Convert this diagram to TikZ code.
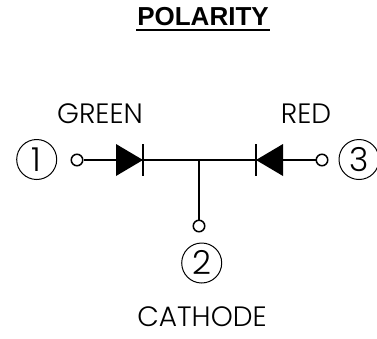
\documentclass[tikz,border=0pt]{standalone}
\usepackage{fontspec}
\setmainfont{Poppins Light}
\newfontfamily\titlefont[Scale=1]{Liberation Sans Bold}
\tikzset{
  wire/.style={draw=black,line width=1.5pt},
  terminal/.style={circle,draw=black,line width=1.5pt,fill=white,minimum size=11.5pt,inner sep=0pt},
  pin/.style={circle,draw=black,line width=1pt,minimum size=40pt,inner sep=0pt,font=\fontsize{33}{33}\selectfont},
  lbl/.style={inner sep=0pt,font=\fontsize{28}{30}\selectfont},
  diode/.style={fill=black,draw=none},
  titlelbl/.style={inner sep=0pt,font=\titlefont\fontsize{26}{28}\selectfont}
}
\begin{document}
\begin{tikzpicture}[x=1pt,y=-1pt]
\useasboundingbox (0,0) rectangle (377,338);
\node[titlelbl,anchor=base] (title) at (203,25.5) {POLARITY};
\coordinate (ulL) at (136,29.5);
\coordinate (ulR) at (270,29.5);
\draw[line width=2pt] (ulL) -- (ulR);
\node[lbl,anchor=base] (green) at (100,123.5) {GREEN};
\node[lbl,anchor=base] (red) at (306,123.5) {RED};
\node[lbl,anchor=base] (cathode) at (202,326.5) {CATHODE};
\node[pin] (p1) at (36.7,159.5) {};
\node[pin] (p3) at (359,159.5) {};
\node[pin] (p2) at (201.7,263) {};
\node[inner sep=0pt,font=\fontsize{33}{33}\selectfont,anchor=base] (n1) at (36.7,171) {1};
\node[inner sep=0pt,font=\fontsize{33}{33}\selectfont,anchor=base] (n3) at (359,171) {3};
\node[inner sep=0pt,font=\fontsize{33}{33}\selectfont,anchor=base] (n2) at (201.7,274.5) {2};
\node[terminal] (t1) at (77,160) {};
\node[terminal] (t3) at (322,160) {};
\node[terminal] (t2) at (199,226) {};
\coordinate (j) at (199,160);
\coordinate (bL) at (143,160);
\coordinate (bR) at (256,160);
\draw[wire] (t1) -- (j) -- (t3);
\draw[wire] (j) -- (t2);
\fill[diode] (116,144) -- (143,160) -- (116,176) -- cycle;
\fill[diode] (283,144) -- (256,160) -- (283,176) -- cycle;
\draw[wire] (143,144) -- (143,176);
\draw[wire] (256,144) -- (256,176);
\end{tikzpicture}
\end{document}
